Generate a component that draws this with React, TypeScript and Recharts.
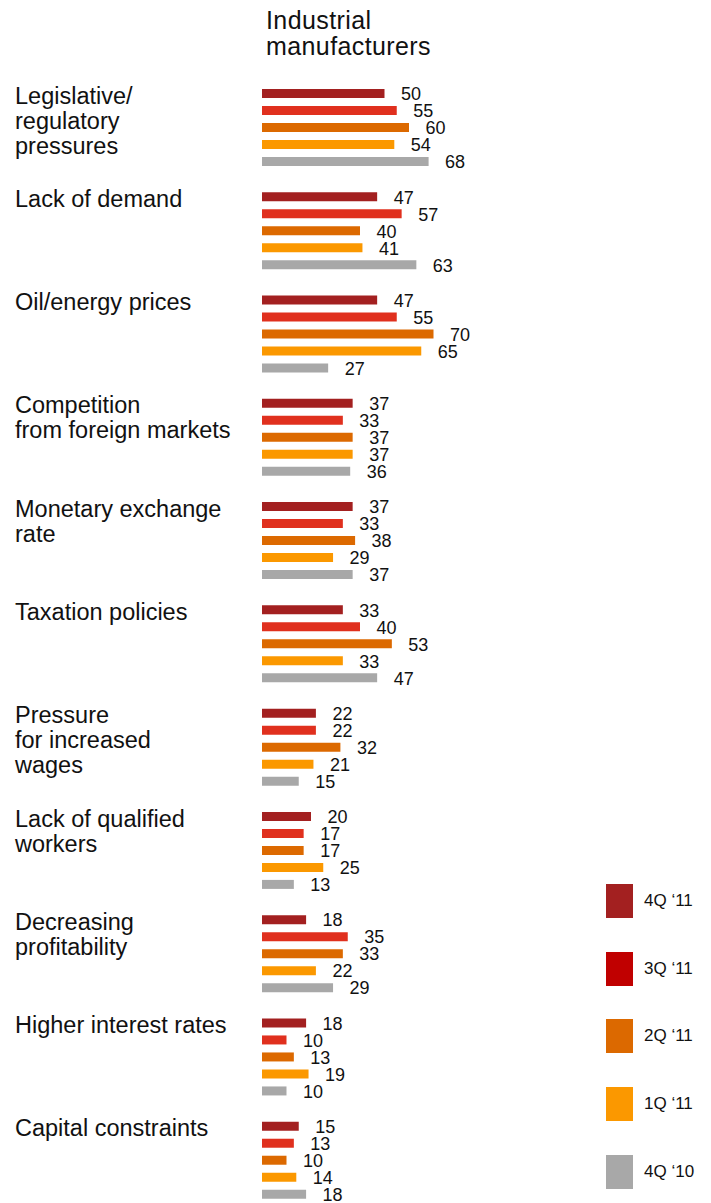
import React from "react";
import { BarChart, Bar, XAxis, YAxis, LabelList, Legend } from "recharts";

// Categories (top to bottom)
const CATEGORIES = [
  "Legislative/\nregulatory\npressures",
  "Lack of demand",
  "Oil/energy prices",
  "Competition\nfrom foreign markets",
  "Monetary exchange\nrate",
  "Taxation policies",
  "Pressure\nfor increased\nwages",
  "Lack of qualified\nworkers",
  "Decreasing\nprofitability",
  "Higher interest rates",
  "Capital constraints",
];

// Series values (%)
const Q4_11 = [50, 47, 47, 37, 37, 33, 22, 20, 18, 18, 15];
const Q3_11 = [55, 57, 55, 33, 33, 40, 22, 17, 35, 10, 13];
const Q2_11 = [60, 40, 70, 37, 38, 53, 32, 17, 33, 13, 10];
const Q1_11 = [54, 41, 65, 37, 29, 33, 21, 25, 22, 19, 14];
const Q4_10 = [68, 63, 27, 36, 37, 47, 15, 13, 29, 10, 18];

const SERIES_KEYS = ["q4_11", "q3_11", "q2_11", "q1_11", "q4_10"];
const SERIES_NAMES = ["4Q \u201811", "3Q \u201811", "2Q \u201811", "1Q \u201811", "4Q \u201810"];
const BAR_COLORS = ["#A32020", "#E0301E", "#DC6900", "#FB9800", "#A8A8A8"];
const LEGEND_COLORS = ["#A32020", "#C00000", "#DC6900", "#FB9800", "#A8A8A8"];

const FONT = '"Liberation Sans", Arial, Helvetica, sans-serif';

const data = CATEGORIES.map((name, i) => ({
  name,
  q4_11: Q4_11[i],
  q3_11: Q3_11[i],
  q2_11: Q2_11[i],
  q1_11: Q1_11[i],
  q4_10: Q4_10[i],
}));

// multi-line category label on the left
const CategoryTick = (props: any) => {
  const { y, payload } = props;
  const lines = String(payload.value).split("\n");
  return (
    <text x={15} y={y - 24} fontFamily={FONT} fontSize={23.5} fill="#111">
      {lines.map((line, i) => (
        <tspan key={i} x={15} dy={i === 0 ? 0 : 25}>
          {line}
        </tspan>
      ))}
    </text>
  );
};

const ValueLabel = (props: any) => {
  const { x, y, width, height, value } = props;
  return (
    <text
      x={x + width + 16.5}
      y={y + height / 2 + 6.8}
      fontFamily={FONT}
      fontSize={18}
      fill="#111"
    >
      {value}
    </text>
  );
};

const LegendBox = () => (
  <div style={{ fontFamily: FONT }}>
    {SERIES_NAMES.map((name, i) => (
      <div
        key={name}
        style={{ display: "flex", alignItems: "center", height: 34, marginBottom: 33.7 }}
      >
        <div style={{ width: 27, height: 34, background: LEGEND_COLORS[i] }} />
        <span style={{ marginLeft: 11, fontSize: 17, color: "#111" }}>{name}</span>
      </div>
    ))}
  </div>
);

export default function App() {
  return (
    <div
      style={{
        position: "absolute",
        top: 0,
        left: 0,
        width: 711,
        height: 1203,
        overflow: "hidden",
        background: "#fff",
      }}
    >
      <div
        style={{
          position: "absolute",
          left: 266,
          top: 6.7,
          fontFamily: FONT,
          fontSize: 25,
          letterSpacing: 0.4,
          lineHeight: "26.7px",
          color: "#111",
          zIndex: 2,
        }}
      >
        Industrial
        <br />
        manufacturers
      </div>
      <BarChart
        width={711}
        height={1212}
        data={data}
        layout="vertical"
        margin={{ top: 76, right: 204, bottom: 0, left: 0 }}
        barSize={9}
        barGap={8}
      >
        <XAxis type="number" domain={[0, 100]} hide />
        <YAxis
          type="category"
          dataKey="name"
          width={262}
          axisLine={false}
          tickLine={false}
          interval={0}
          tick={<CategoryTick />}
        />
        <Legend
          layout="vertical"
          align="center"
          verticalAlign="middle"
          content={<LegendBox />}
          wrapperStyle={{ left: 606, top: 884, width: 105 }}
        />
        {SERIES_KEYS.map((key, i) => (
          <Bar
            key={key}
            dataKey={key}
            name={SERIES_NAMES[i]}
            fill={BAR_COLORS[i]}
            isAnimationActive={false}
          >
            <LabelList dataKey={key} content={<ValueLabel />} />
          </Bar>
        ))}
      </BarChart>
    </div>
  );
}
